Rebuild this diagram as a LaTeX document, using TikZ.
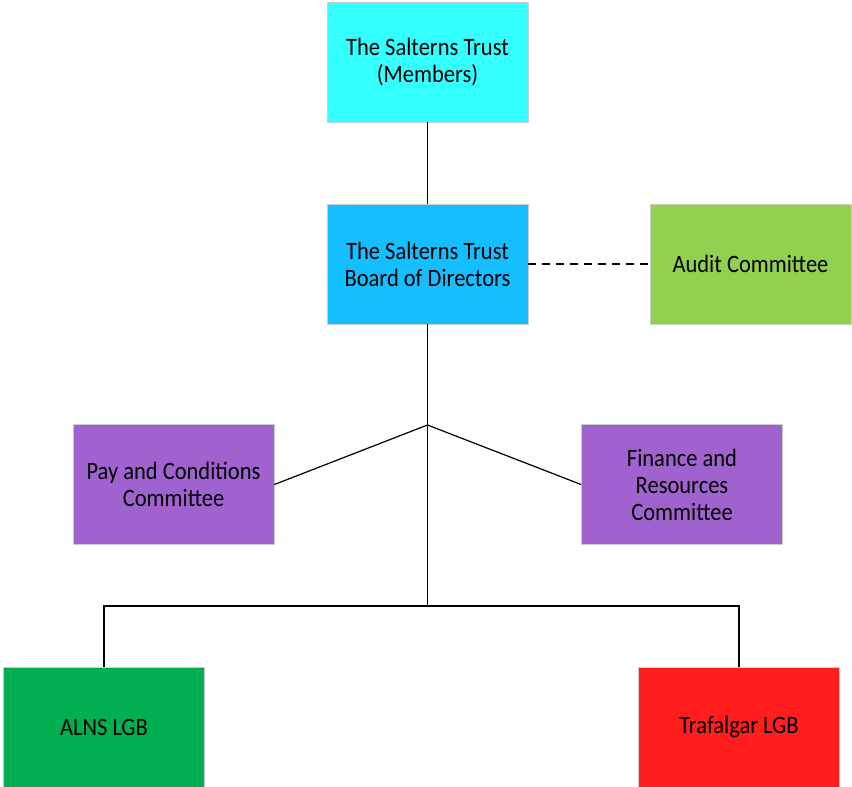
\documentclass[tikz,border=0pt]{standalone}
\usepackage{fontspec}
\setmainfont[FakeStretch=0.9]{Carlito}
\begin{document}
\begin{tikzpicture}[x=1pt,y=-1pt,
  box/.style={draw=black!20, line width=0.8pt, minimum width=201pt, minimum height=120pt, inner sep=2pt, align=center, font=\fontsize{25}{27}\selectfont, text=black},
  conn/.style={draw=black, line width=1.2pt}]
\useasboundingbox (0,0) rectangle (852,787);
\node[box, fill={rgb,255:red,51;green,255;blue,255}] (mem) at (427.5,62) {The Salterns Trust\\(Members)};
\node[box, fill={rgb,255:red,21;green,190;blue,255}] (board) at (427.5,264) {The Salterns Trust\\Board of Directors};
\node[box, fill={rgb,255:red,146;green,208;blue,80}] (audit) at (750.5,264) {Audit Committee};
\node[box, fill={rgb,255:red,160;green,98;blue,207}] (pay) at (173.5,484.5) {Pay and Conditions\\Committee};
\node[box, fill={rgb,255:red,160;green,98;blue,207}] (fin) at (682,484.5) {Finance and\\Resources\\Committee};
\node[box, fill={rgb,255:red,0;green,176;blue,80}] (alns) at (104,727) {ALNS LGB};
\node[box, fill={rgb,255:red,255;green,29;blue,29}] (traf) at (739,727) {Trafalgar LGB};
\coordinate (j) at (427.5,425);
\coordinate (h) at (427.5,606);
\draw[conn] (mem.south) -- (board.north);
\draw[conn, line width=1.6pt] (board.south) -- (h);
\draw[conn] (j) -- (pay.east);
\draw[conn] (j) -- (fin.west);
\draw[conn] (h) -| (alns.north);
\draw[conn] (h) -| (traf.north);
\draw[conn, dash pattern=on 8pt off 6pt] (board.east) -- (audit.west);
\end{tikzpicture}
\end{document}
